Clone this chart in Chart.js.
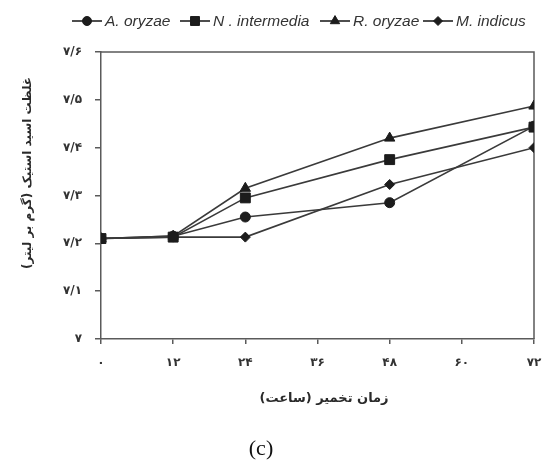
<!DOCTYPE html>
<html><head><meta charset="utf-8">
<script src="https://cdn.jsdelivr.net/npm/chart.js@4/dist/chart.umd.min.js"></script>
<style>html,body{margin:0;padding:0;background:#fff}#c{display:block}</style>
</head><body>
<canvas id="c" width="545" height="466"></canvas>
<script>
// ---- data ----
const hours = [0, 12, 24, 48, 72];
const aOryzae = [7.21, 7.215, 7.255, 7.285, 7.445];
const nIntermedia = [7.21, 7.213, 7.295, 7.375, 7.443];
const rOryzae = [7.21, 7.215, 7.315, 7.42, 7.487];
const mIndicus = [7.21, 7.213, 7.213, 7.323, 7.40];
const seriesNames = ['A. oryzae', 'N . intermedia', 'R. oryzae', 'M. indicus'];
const xTickValues = [0, 12, 24, 36, 48, 60, 72];
const xTickLabels = ['۰', '۱۲', '۲۴', '۳۶', '۴۸', '۶۰', '۷۲'];
const yTickValues = [7, 7.1, 7.2, 7.3, 7.4, 7.5, 7.6];
const yTickLabels = ['۷', '۷/۱', '۷/۲', '۷/۳', '۷/۴', '۷/۵', '۷/۶'];
const yTitle = 'غلظت اسید استیک (گرم بر لیتر)';
const xTitle = 'زمان تخمیر (ساعت)';
const caption = '(c)';

// ---- styles ----
const LINE = '#3a3a3a';
const MARK = '#1c1c1c';
const styles = [
  {pointStyle: 'circle', radius: 5, order: 2},
  {pointStyle: 'rect', radius: 7, order: 0},
  {pointStyle: 'triangle', radius: 6, order: 1},
  {pointStyle: 'rectRot', radius: 5, order: 3}
];
const seriesValues = [aOryzae, nIntermedia, rOryzae, mIndicus];

const datasets = seriesValues.map((vals, i) => ({
  label: seriesNames[i],
  data: hours.map((h, j) => ({x: h, y: vals[j]})),
  borderColor: LINE,
  borderWidth: 1.6,
  backgroundColor: MARK,
  pointBackgroundColor: MARK,
  pointBorderColor: MARK,
  pointBorderWidth: 1,
  pointStyle: styles[i].pointStyle,
  pointRadius: styles[i].radius,
  order: styles[i].order,
  tension: 0,
  fill: false
}));

const legendX = [72, 180, 320, 423];

function drawMarker(ctx, style, r, x, y) {
  if (Chart.helpers && Chart.helpers.drawPoint) {
    ctx.fillStyle = MARK; ctx.strokeStyle = MARK; ctx.lineWidth = 1;
    Chart.helpers.drawPoint(ctx, {pointStyle: style, radius: r, rotation: 0, borderWidth: 1}, x, y);
  }
}

const decor = {
  id: 'decor',
  beforeDatasetsDraw(chart) {
    const {ctx, chartArea: a} = chart;
    ctx.save();
    ctx.strokeStyle = '#5a5a5a';
    ctx.lineWidth = 1.5;
    ctx.beginPath();
    ctx.moveTo(a.left, a.top);
    ctx.lineTo(a.right, a.top);
    ctx.lineTo(a.right, a.bottom);
    ctx.stroke();
    ctx.restore();
  },
  afterDraw(chart) {
    const {ctx} = chart;
    ctx.save();
    // y title
    ctx.fillStyle = '#2a2a2a';
    ctx.font = 'bold 12px "DejaVu Sans"';
    ctx.textAlign = 'center';
    ctx.textBaseline = 'middle';
    ctx.direction = 'rtl';
    ctx.translate(28, 173);
    ctx.rotate(-Math.PI / 2);
    ctx.fillText(yTitle, 0, 0);
    ctx.setTransform(1, 0, 0, 1, 0, 0);
    // x title
    ctx.font = 'bold 13px "DejaVu Sans"';
    ctx.fillText(xTitle, 324, 399);
    // caption
    ctx.direction = 'ltr';
    ctx.fillStyle = '#111';
    ctx.font = '22px "Liberation Serif"';
    ctx.fillText(caption, 261, 449);
    // legend
    ctx.font = 'italic 15.5px "Liberation Sans"';
    ctx.textAlign = 'left';
    const ly = 21;
    chart.data.datasets.forEach((ds, i) => {
      const x0 = legendX[i];
      ctx.strokeStyle = LINE;
      ctx.lineWidth = 1.8;
      ctx.beginPath();
      ctx.moveTo(x0, ly);
      ctx.lineTo(x0 + 30, ly);
      ctx.stroke();
      drawMarker(ctx, styles[i].pointStyle, styles[i].radius * 0.9, x0 + 15, ly);
      ctx.fillStyle = '#333';
      ctx.fillText(ds.label, x0 + 33, ly + 1);
    });
    ctx.restore();
  }
};

new Chart(document.getElementById('c'), {
  type: 'line',
  data: {datasets},
  options: {
    responsive: false,
    animation: false,
    devicePixelRatio: 1,
    layout: {padding: {top: 52, right: 11, left: 0, bottom: 0}},
    plugins: {legend: {display: false}, tooltip: {enabled: false}},
    scales: {
      x: {
        type: 'linear', min: 0, max: 72,
        afterBuildTicks: s => { s.ticks = xTickValues.map(v => ({value: v})); },
        afterFit: s => { s.height = 127; s.paddingLeft = 0; s.paddingRight = 0; },
        ticks: {
          callback: (v, i) => xTickLabels[i],
          font: {family: 'DejaVu Sans', size: 12, weight: 'bold'},
          color: '#333', padding: 12, maxRotation: 0, autoSkip: false
        },
        grid: {drawOnChartArea: false, drawTicks: true, tickLength: 5, color: '#5a5a5a', lineWidth: 1.5},
        border: {display: true, color: '#5a5a5a', width: 1.5}
      },
      y: {
        type: 'linear', min: 7, max: 7.6,
        afterBuildTicks: s => { s.ticks = yTickValues.map(v => ({value: v})); },
        afterFit: s => { s.width = 101; s.paddingTop = 0; s.paddingBottom = 0; },
        ticks: {
          callback: (v, i) => yTickLabels[i],
          font: {family: 'DejaVu Sans', size: 12, weight: 'bold'},
          color: '#333', padding: 13, autoSkip: false
        },
        grid: {drawOnChartArea: false, drawTicks: true, tickLength: 6, color: '#5a5a5a', lineWidth: 1.5},
        border: {display: true, color: '#5a5a5a', width: 1.5}
      }
    }
  },
  plugins: [decor]
});
</script>
</body></html>
